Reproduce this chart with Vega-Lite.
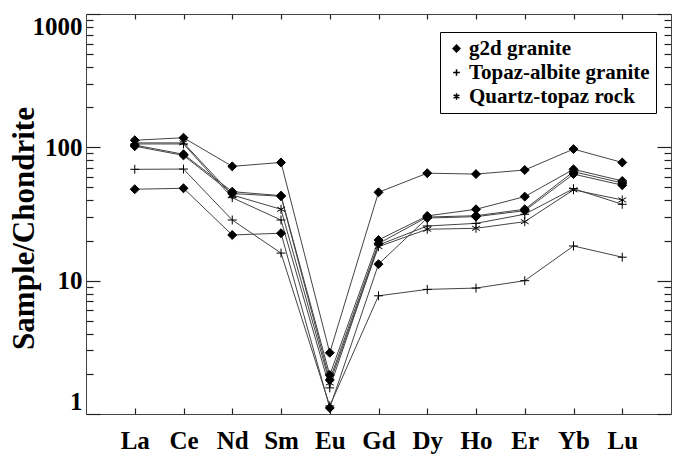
{
  "$schema": "https://vega.github.io/schema/vega-lite/v6.json",
  "width": 585,
  "height": 400,
  "autosize": {"type": "none"},
  "padding": {"left": 86, "top": 14, "right": 5, "bottom": 41},
  "background": "white",
  "config": {
    "view": {"stroke": null},
    "font": "Liberation Serif",
    "axis": {
      "grid": false,
      "ticks": true,
      "domainColor": "#444",
      "tickColor": "#222",
      "tickWidth": 1.2,
      "labelFont": "Liberation Serif",
      "labelFontWeight": "bold",
      "labelColor": "black",
      "titleFont": "Liberation Serif",
      "titleFontWeight": "bold",
      "titleColor": "black"
    }
  },
  "data": {
    "values": [
      {"s": "A", "t": "g2d granite", "el": "La", "v": 113},
      {"s": "A", "t": "g2d granite", "el": "Ce", "v": 118},
      {"s": "A", "t": "g2d granite", "el": "Nd", "v": 72},
      {"s": "A", "t": "g2d granite", "el": "Sm", "v": 77},
      {"s": "A", "t": "g2d granite", "el": "Eu", "v": 2.88},
      {"s": "A", "t": "g2d granite", "el": "Gd", "v": 46},
      {"s": "A", "t": "g2d granite", "el": "Dy", "v": 64},
      {"s": "A", "t": "g2d granite", "el": "Ho", "v": 63},
      {"s": "A", "t": "g2d granite", "el": "Er", "v": 67.6},
      {"s": "A", "t": "g2d granite", "el": "Yb", "v": 97},
      {"s": "A", "t": "g2d granite", "el": "Lu", "v": 77},
      {"s": "B", "t": "g2d granite", "el": "La", "v": 48.5},
      {"s": "B", "t": "g2d granite", "el": "Ce", "v": 49.3},
      {"s": "B", "t": "g2d granite", "el": "Nd", "v": 22},
      {"s": "B", "t": "g2d granite", "el": "Sm", "v": 22.7},
      {"s": "B", "t": "g2d granite", "el": "Eu", "v": 1.11},
      {"s": "B", "t": "g2d granite", "el": "Gd", "v": 13.3},
      {"s": "B", "t": "g2d granite", "el": "Dy", "v": 29.5},
      {"s": "B", "t": "g2d granite", "el": "Ho", "v": 30.2},
      {"s": "B", "t": "g2d granite", "el": "Er", "v": 33.5},
      {"s": "B", "t": "g2d granite", "el": "Yb", "v": 63},
      {"s": "B", "t": "g2d granite", "el": "Lu", "v": 52},
      {"s": "D", "t": "g2d granite", "el": "La", "v": 104},
      {"s": "D", "t": "g2d granite", "el": "Ce", "v": 88.7},
      {"s": "D", "t": "g2d granite", "el": "Nd", "v": 46.5},
      {"s": "D", "t": "g2d granite", "el": "Sm", "v": 43.4},
      {"s": "D", "t": "g2d granite", "el": "Eu", "v": 1.96},
      {"s": "D", "t": "g2d granite", "el": "Gd", "v": 20.2},
      {"s": "D", "t": "g2d granite", "el": "Dy", "v": 30.6},
      {"s": "D", "t": "g2d granite", "el": "Ho", "v": 34.3},
      {"s": "D", "t": "g2d granite", "el": "Er", "v": 42.7},
      {"s": "D", "t": "g2d granite", "el": "Yb", "v": 68.4},
      {"s": "D", "t": "g2d granite", "el": "Lu", "v": 56},
      {"s": "G", "t": "g2d granite", "el": "La", "v": 102},
      {"s": "G", "t": "g2d granite", "el": "Ce", "v": 87},
      {"s": "G", "t": "g2d granite", "el": "Nd", "v": 45},
      {"s": "G", "t": "g2d granite", "el": "Sm", "v": 43},
      {"s": "G", "t": "g2d granite", "el": "Eu", "v": 1.8},
      {"s": "G", "t": "g2d granite", "el": "Gd", "v": 19},
      {"s": "G", "t": "g2d granite", "el": "Dy", "v": 30},
      {"s": "G", "t": "g2d granite", "el": "Ho", "v": 30.7},
      {"s": "G", "t": "g2d granite", "el": "Er", "v": 34.3},
      {"s": "G", "t": "g2d granite", "el": "Yb", "v": 65.7},
      {"s": "G", "t": "g2d granite", "el": "Lu", "v": 54},
      {"s": "E", "t": "Quartz-topaz rock", "el": "La", "v": 108},
      {"s": "E", "t": "Quartz-topaz rock", "el": "Ce", "v": 108},
      {"s": "E", "t": "Quartz-topaz rock", "el": "Nd", "v": 43.9},
      {"s": "E", "t": "Quartz-topaz rock", "el": "Sm", "v": 34.3},
      {"s": "E", "t": "Quartz-topaz rock", "el": "Eu", "v": 1.71},
      {"s": "E", "t": "Quartz-topaz rock", "el": "Gd", "v": 18},
      {"s": "E", "t": "Quartz-topaz rock", "el": "Dy", "v": 24.3},
      {"s": "E", "t": "Quartz-topaz rock", "el": "Ho", "v": 24.7},
      {"s": "E", "t": "Quartz-topaz rock", "el": "Er", "v": 27.7},
      {"s": "E", "t": "Quartz-topaz rock", "el": "Yb", "v": 48},
      {"s": "E", "t": "Quartz-topaz rock", "el": "Lu", "v": 40.3},
      {"s": "F", "t": "Topaz-albite granite", "el": "La", "v": 106},
      {"s": "F", "t": "Topaz-albite granite", "el": "Ce", "v": 106},
      {"s": "F", "t": "Topaz-albite granite", "el": "Nd", "v": 41.9},
      {"s": "F", "t": "Topaz-albite granite", "el": "Sm", "v": 28.5},
      {"s": "F", "t": "Topaz-albite granite", "el": "Eu", "v": 1.57},
      {"s": "F", "t": "Topaz-albite granite", "el": "Gd", "v": 18.5},
      {"s": "F", "t": "Topaz-albite granite", "el": "Dy", "v": 25.7},
      {"s": "F", "t": "Topaz-albite granite", "el": "Ho", "v": 26.9},
      {"s": "F", "t": "Topaz-albite granite", "el": "Er", "v": 31.5},
      {"s": "F", "t": "Topaz-albite granite", "el": "Yb", "v": 49},
      {"s": "F", "t": "Topaz-albite granite", "el": "Lu", "v": 37.4},
      {"s": "C", "t": "Topaz-albite granite", "el": "La", "v": 68.4},
      {"s": "C", "t": "Topaz-albite granite", "el": "Ce", "v": 68.7},
      {"s": "C", "t": "Topaz-albite granite", "el": "Nd", "v": 28.5},
      {"s": "C", "t": "Topaz-albite granite", "el": "Sm", "v": 16.1},
      {"s": "C", "t": "Topaz-albite granite", "el": "Eu", "v": 1.15},
      {"s": "C", "t": "Topaz-albite granite", "el": "Gd", "v": 7.7},
      {"s": "C", "t": "Topaz-albite granite", "el": "Dy", "v": 8.6},
      {"s": "C", "t": "Topaz-albite granite", "el": "Ho", "v": 8.8},
      {"s": "C", "t": "Topaz-albite granite", "el": "Er", "v": 10},
      {"s": "C", "t": "Topaz-albite granite", "el": "Yb", "v": 18.2},
      {"s": "C", "t": "Topaz-albite granite", "el": "Lu", "v": 15}
    ]
  },
  "layer": [
    {
      "mark": {"type": "line", "color": "#444", "strokeWidth": 1},
      "encoding": {
        "x": {
          "field": "el", "type": "ordinal",
          "sort": ["La", "Ce", "Nd", "Sm", "Eu", "Gd", "Dy", "Ho", "Er", "Yb", "Lu"],
          "scale": {"type": "point", "padding": 1},
          "axis": {"orient": "bottom", "title": null, "labelAngle": 0, "ticks": true, "tickSize": -6, "labelPadding": 20, "labelFontSize": 25, "labelDx": 6, "labelBaseline": "top"}
        },
        "y": {
          "field": "v", "type": "quantitative",
          "scale": {"type": "log", "domain": [1, 1000]},
          "axis": {
            "orient": "left",
            "title": "Sample/Chondrite",
            "titleFontSize": 31,
            "titleX": -62,
            "titleY": 214,
            "titleAngle": -90,
            "titleAlign": "center",
            "titleBaseline": "middle",
            "values": [1, 2, 3, 4, 5, 6, 7, 8, 9, 10, 20, 30, 40, 50, 60, 70, 80, 90, 100, 200, 300, 400, 500, 600, 700, 800, 900, 1000],
            "labelExpr": "indexof([1,10,100,1000], datum.value) >= 0 ? format(datum.value, 'd') : ''",
            "labelFontSize": 25,
            "labelFlush": true,
            "labelPadding": 18,
            "ticks": true,
            "tickSize": {"condition": {"test": "indexof([1,10,100,1000], datum.value) >= 0", "value": -14}, "value": -7}
          }
        },
        "detail": {"field": "s"}
      }
    },
    {
      "mark": {"type": "point", "filled": false, "stroke": "black", "strokeWidth": 1, "opacity": 1, "size": 80},
      "encoding": {
        "x": {
          "field": "el", "type": "ordinal",
          "sort": ["La", "Ce", "Nd", "Sm", "Eu", "Gd", "Dy", "Ho", "Er", "Yb", "Lu"],
          "axis": {"orient": "top", "title": null, "labels": false, "ticks": true, "tickSize": -5}
        },
        "y": {
          "field": "v", "type": "quantitative",
          "axis": {
            "orient": "right", "title": null, "labels": false, "ticks": true,
            "values": [1, 2, 3, 4, 5, 6, 7, 8, 9, 10, 20, 30, 40, 50, 60, 70, 80, 90, 100, 200, 300, 400, 500, 600, 700, 800, 900, 1000],
            "tickSize": {"condition": {"test": "indexof([1,10,100,1000], datum.value) >= 0", "value": -14}, "value": -7}
          }
        },
        "shape": {
          "field": "t", "type": "nominal",
          "scale": {
            "domain": ["g2d granite", "Topaz-albite granite", "Quartz-topaz rock"],
            "range": ["diamond", "M-1,0L1,0M0,-1L0,1", "M0,-1L0,1M-0.87,-0.5L0.87,0.5M-0.87,0.5L0.87,-0.5"]
          },
          "legend": {
            "title": null,
            "orient": "none",
            "legendX": 354,
            "legendY": 18,
            "strokeColor": "black",
            "fillColor": "white",
            "padding": 6,
            "labelFont": "Liberation Serif",
            "labelFontWeight": "bold",
            "labelFontSize": 21,
            "labelLimit": 400,
            "labelColor": "black",
            "labelOffset": 2,
            "symbolSize": 45,
            "rowPadding": 2,
            "encode": {
              "symbols": {
                "update": {
                  "stroke": {"value": "black"},
                  "strokeWidth": {"value": 1}
                }
              }
            }
          }
        },
        "fill": {
          "field": "t", "type": "nominal",
          "scale": {
            "domain": ["g2d granite", "Topaz-albite granite", "Quartz-topaz rock"],
            "range": ["black", "transparent", "transparent"]
          },
          "legend": {
            "title": null,
            "orient": "none",
            "legendX": 354,
            "legendY": 18
          }
        }
      }
    }
  ],
  "resolve": {"axis": {"x": "independent", "y": "independent"}}
}
